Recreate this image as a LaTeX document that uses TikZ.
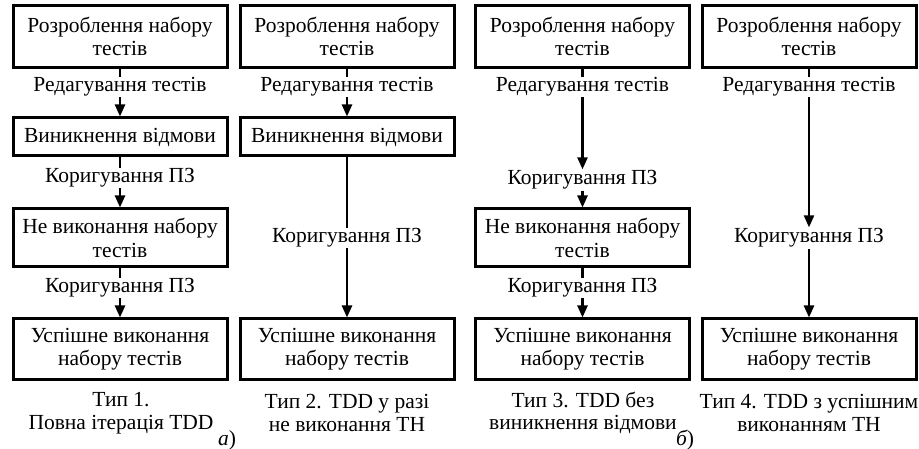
\documentclass[tikz,border=0pt]{standalone}
\usepackage{fontspec}
\setmainfont{Liberation Serif}
\usetikzlibrary{arrows.meta}
\pgfdeclarelayer{bg}
\pgfsetlayers{bg,main}
\begin{document}
\begin{tikzpicture}[x=1pt,y=-1pt,
  txt/.style={font=\fontsize{21.5}{23.5}\selectfont},
  box/.style={txt, draw, line width=3pt, minimum width=214pt, align=center, inner sep=0pt},
  lbl/.style={txt, fill=white, inner sep=1pt},
  conn/.style={line width=2.4pt, -{Triangle[length=12pt,width=10pt]}},
  captxt/.style={font=\fontsize{21.5}{22.5}\selectfont, align=center},
  parttxt/.style={font=\fontsize{21.5}{22.5}\selectfont, inner sep=0pt}]
\useasboundingbox (0,0) rectangle (919,449);
% column 1
\node[box, minimum height=62pt] (a1) at (120,36.5) {Розроблення набору\\тестів};
\node[box, minimum height=38pt] (a2) at (120,137) {Виникнення відмови};
\node[box, minimum height=58pt] (a3) at (120,238) {Не виконання набору\\тестів};
\node[box, minimum height=60pt] (a4) at (120,349) {Успішне виконання\\набору тестів};
\node[lbl] (la1) at (120,87) {Редагування тестів};
\node[lbl] (la2) at (120,178) {Коригування ПЗ};
\node[lbl] (la3) at (120,288) {Коригування ПЗ};
\node[captxt] (ca) at (121,413) {Тип 1.\\Повна ітерація TDD};
% column 2
\node[box, minimum height=62pt] (b1) at (347,36.5) {Розроблення набору\\тестів};
\node[box, minimum height=38pt] (b2) at (347,137) {Виникнення відмови};
\node[box, minimum height=60pt] (b4) at (347,349) {Успішне виконання\\набору тестів};
\node[lbl] (lb1) at (347,87) {Редагування тестів};
\node[lbl] (lb2) at (347,238) {Коригування ПЗ};
\node[captxt] (cb) at (347,413) {Тип 2. TDD у разі\\не виконання ТН};
\node[parttxt] (pa) at (227,440) {\itshape а\upshape)};
% column 3
\node[box, minimum height=62pt] (c1) at (582.5,36.5) {Розроблення набору\\тестів};
\node[box, minimum height=58pt] (c3) at (582.5,238) {Не виконання набору\\тестів};
\node[box, minimum height=60pt] (c4) at (582.5,349) {Успішне виконання\\набору тестів};
\node[lbl] (lc1) at (582.5,87) {Редагування тестів};
\node[lbl] (lc2) at (582.5,180) {Коригування ПЗ};
\node[lbl] (lc3) at (582.5,288) {Коригування ПЗ};
\node[captxt] (cc) at (583,413) {Тип 3. TDD без\\виникнення відмови};
% column 4
\node[box, minimum height=62pt] (d1) at (809,36.5) {Розроблення набору\\тестів};
\node[box, minimum height=60pt] (d4) at (809,349) {Успішне виконання\\набору тестів};
\node[lbl] (ld1) at (809,87) {Редагування тестів};
\node[lbl] (ld2) at (809,238) {Коригування ПЗ};
\node[captxt] (cd) at (809,413) {Тип 4. TDD з успішним\\виконанням ТН};
\node[parttxt] (pb) at (685,440) {\itshape б\upshape)};
\begin{pgfonlayer}{bg}
\draw[conn] (a1) -- (a2);
\draw[conn] (a2) -- (a3);
\draw[conn] (a3) -- (a4);
\draw[conn] (b1) -- (b2);
\draw[conn] (b2) -- (b4);
\draw[conn] (c1) -- (lc2);
\draw[conn] (lc2) -- (c3);
\draw[conn] (c3) -- (c4);
\draw[conn] (d1) -- (ld2);
\draw[conn] (ld2) -- (d4);
\end{pgfonlayer}
\end{tikzpicture}
\end{document}
